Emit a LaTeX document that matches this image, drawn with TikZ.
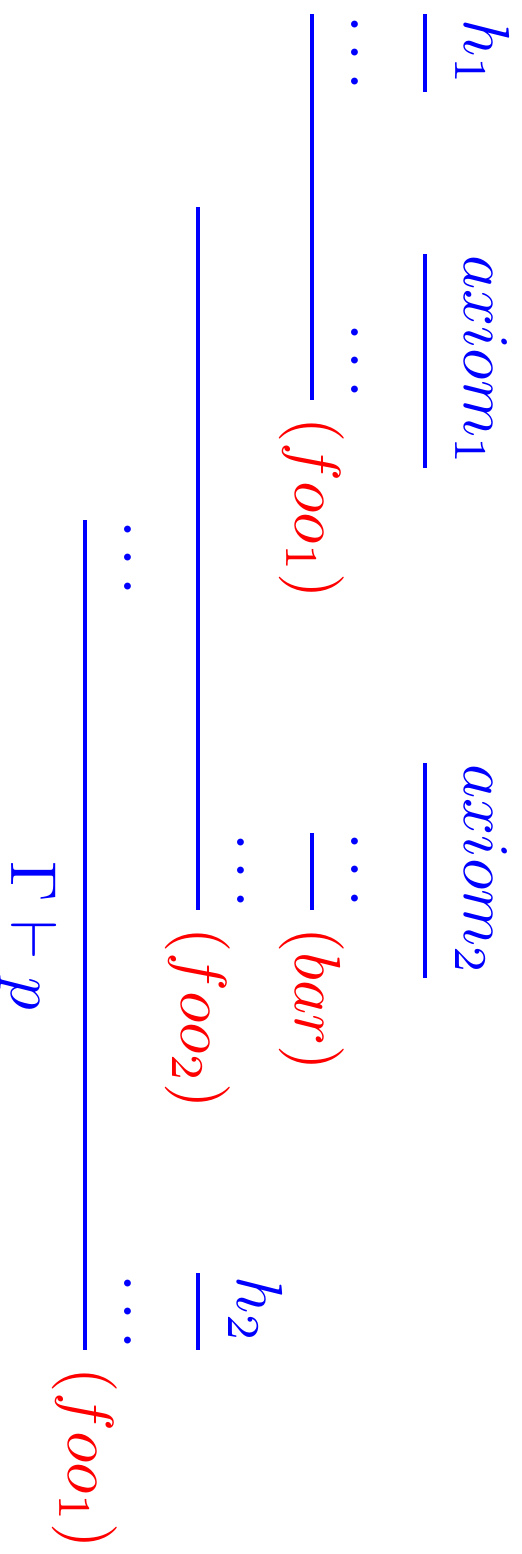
\documentclass[tikz,border=0pt]{standalone}
\usepackage{amsmath}
\usepackage{tikz}
\usetikzlibrary{calc}
\newcommand{\pfdots}{.\kern1.67pt.\kern1.67pt.}
\tikzset{
  rulebar/.style={draw=blue, line width=0.5pt},
  formula/.style={inner sep=0pt, anchor=base, text=blue},
  gapdots/.style={inner sep=0pt, anchor=base, text=blue},
  rulename/.style={inner sep=0pt, anchor=west, text=red},
}
\begin{document}
\begin{tikzpicture}[rotate=-90, transform shape, x=0.15385pt, y=0.15385pt]
\useasboundingbox (0,0) rectangle (1554,521);
% leaves
\node[formula] (h1) at (53,465) {$h_1$};
\node[formula] (ax1) at (361,465) {$axiom_1$};
\node[formula] (ax2) at (870,465) {$axiom_2$};
\draw[rulebar] (14,425) coordinate (h1a) -- (92,425) coordinate (h1b);
\draw[rulebar] (254,425) coordinate (ax1a) -- (468,425) coordinate (ax1b);
\draw[rulebar] (763,425) coordinate (ax2a) -- (978,425) coordinate (ax2b);
\node[gapdots] (d1) at (53,351) {\pfdots};
\node[gapdots] (d2) at (361,351) {\pfdots};
\node[gapdots] (d3) at (870,351) {\pfdots};
% first rules
\draw[rulebar] (14,312) coordinate (fooa) -- (400,312) coordinate (foob);
\node[rulename] (lfoo) at ($(foob)+(16,0)$) {$(foo_1)$};
\draw[rulebar] (833,312) coordinate (bara) -- (910,312) coordinate (barb);
\node[rulename] (lbar) at ($(barb)+(16,0)$) {$(bar)$};
\node[gapdots] (d4) at (871,238) {\pfdots};
\node[formula] (h2) at (1310,238) {$h_2$};
% second rules
\draw[rulebar] (207,198) coordinate (fooIIa) -- (910,198) coordinate (fooIIb);
\node[rulename] (lfooII) at ($(fooIIb)+(16,0)$) {$(foo_2)$};
\draw[rulebar] (1273,198) coordinate (h2a) -- (1350,198) coordinate (h2b);
\node[gapdots] (d5) at (558,124) {\pfdots};
\node[gapdots] (d6) at (1312,124) {\pfdots};
% root
\draw[rulebar] (520,85) coordinate (roota) -- (1350,85) coordinate (rootb);
\node[rulename] (lroot) at ($(rootb)+(16,0)$) {$(foo_1)$};
\node[formula] (goal) at (936,12) {$\Gamma\vdash p$};
\end{tikzpicture}
\end{document}
